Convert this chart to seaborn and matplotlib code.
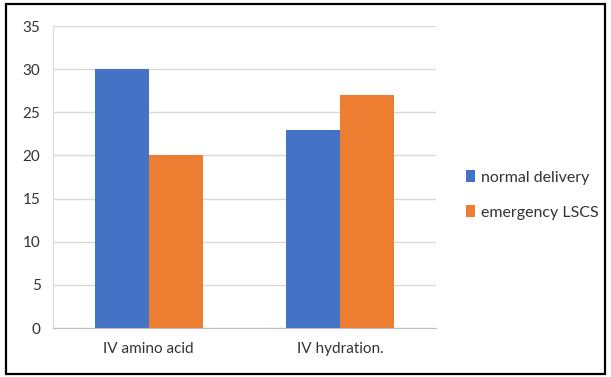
import matplotlib
matplotlib.use('Agg')
import matplotlib.pyplot as plt
from matplotlib.patches import Rectangle
import seaborn as sns
import pandas as pd

categories = ['IV amino acid', 'IV hydration.']
series = ['normal delivery', 'emergency LSCS']
normal_delivery = [30, 23]
emergency_lscs = [20, 27]
y_ticks = [0, 5, 10, 15, 20, 25, 30, 35]

df = pd.DataFrame({
    'category': categories * 2,
    'group': [series[0]] * 2 + [series[1]] * 2,
    'value': normal_delivery + emergency_lscs,
})

sns.set_style('white')
plt.rcParams['font.family'] = ['Lato', 'DejaVu Sans']

fig = plt.figure(figsize=(6.11, 3.77), dpi=100)
ax = fig.add_axes([53 / 611, 49 / 377, 383 / 611, 302 / 377])

sns.barplot(data=df, x='category', y='value', hue='group',
            palette=['#4472C4', '#ED7D31'], width=0.565, saturation=1,
            linewidth=0, ax=ax)

ax.set_ylim(0, 35)
ax.set_yticks(y_ticks)
ax.set_xlim(-0.5, 1.5)
ax.set_xlabel('')
ax.set_ylabel('')
ax.yaxis.grid(True, color='#d9d9d9', linewidth=1)
ax.set_axisbelow(True)
for s in ['top', 'right']:
    ax.spines[s].set_visible(False)
ax.spines['left'].set_color('#d9d9d9')
ax.spines['bottom'].set_color('#bfbfbf')
ax.tick_params(axis='y', length=5, color='#d9d9d9', labelsize=11, labelcolor='#333333', pad=4)
ax.tick_params(axis='x', length=0, labelsize=11, labelcolor='#333333', pad=10)
ax.set_xticks([-0.5, 0.5, 1.5], minor=True)
ax.tick_params(axis='x', which='minor', length=5, color='#bfbfbf')

ax.legend(loc='center left', frameon=False, fontsize=11.5, handlelength=0.55,
          handleheight=0.7, handletextpad=0.35, labelspacing=1.3,
          labelcolor='#333333')
leg = ax.get_legend()
leg.set_bbox_to_anchor((452 / 611, 182 / 377), transform=fig.transFigure)

fig.patches.append(Rectangle((6 / 611, 3 / 377), 599 / 611, 370 / 377,
                             transform=fig.transFigure, fill=False,
                             edgecolor='black', linewidth=1.6))

fig.savefig('out.png', dpi=100)
